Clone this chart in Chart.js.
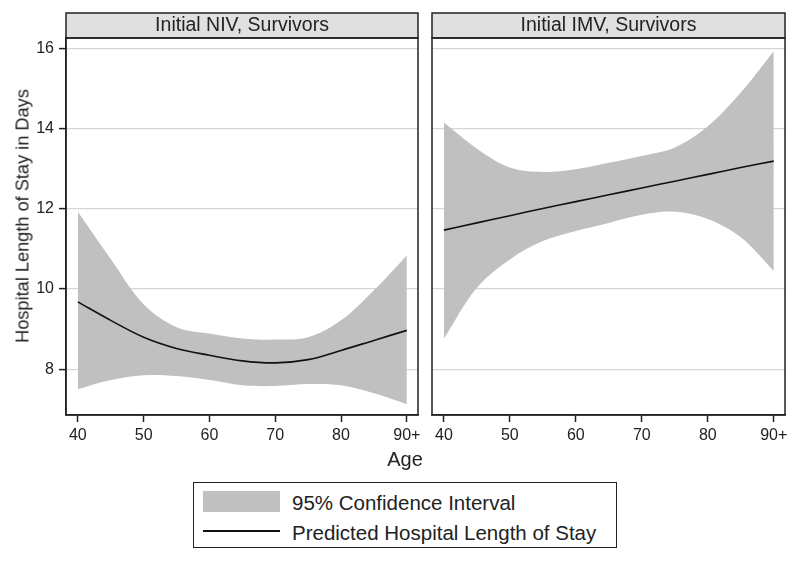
<!DOCTYPE html>
<html>
<head>
<meta charset="utf-8">
<script src="https://cdn.jsdelivr.net/npm/chart.js@4/dist/chart.umd.min.js"></script>
<style>
  body { margin: 0; background: #fff; font-family: "Liberation Sans", Arial, sans-serif; color: #222; }
  #wrap { position: relative; width: 800px; height: 562px; }
  canvas { position: absolute; top: 0; }
  #ylab { position: absolute; left: 23px; top: 216px; transform: translate(-50%, -50%) rotate(-90deg); white-space: nowrap; font-size: 18.2px; }
  #xlab { position: absolute; left: 355px; top: 448px; width: 100px; text-align: center; font-size: 20px; }
  #legend { position: absolute; left: 193px; top: 482px; width: 424px; height: 66px; box-sizing: border-box; border: 1.5px solid #222; }
  .sw { position: absolute; left: 8.5px; top: 7.5px; width: 77px; height: 21px; background: #c0c0c0; }
  .ln { position: absolute; left: 8.5px; top: 47px; width: 77px; height: 1.5px; background: #111; }
  .tx { position: absolute; left: 98px; height: 24px; line-height: 24px; margin-top: -12px; font-size: 20.5px; white-space: nowrap; }
</style>
</head>
<body>
<div id="wrap">
  <canvas id="niv" width="425" height="450" style="left:0"></canvas>
  <canvas id="imv" width="375" height="450" style="left:425px"></canvas>
  <div id="ylab">Hospital Length of Stay in Days</div>
  <div id="xlab">Age</div>
  <div id="legend">
    <div class="sw"></div><div class="tx" style="top:19.5px">95% Confidence Interval</div>
    <div class="ln"></div><div class="tx" style="top:49.5px">Predicted Hospital Length of Stay</div>
  </div>
</div>
<script>
// Age grid shared by both panels
const ages = [40, 45, 50, 55, 60, 65, 70, 75, 80, 85, 90];
const xTicks = [40, 50, 60, 70, 80, 90];
const xTickLabels = ['40', '50', '60', '70', '80', '90+'];
const yTicks = [8, 10, 12, 14, 16];

// Initial NIV, Survivors
const nivPred  = [9.68, 9.22, 8.80, 8.52, 8.35, 8.21, 8.16, 8.24, 8.47, 8.72, 8.97];
const nivUpper = [11.93, 10.75, 9.62, 9.05, 8.89, 8.77, 8.74, 8.80, 9.22, 9.97, 10.84];
const nivLower = [7.50, 7.73, 7.85, 7.83, 7.73, 7.60, 7.58, 7.63, 7.60, 7.40, 7.13];

// Initial IMV, Survivors
const imvPred  = [11.47, 11.65, 11.83, 12.01, 12.18, 12.35, 12.52, 12.69, 12.86, 13.03, 13.19];
const imvUpper = [14.15, 13.50, 13.03, 12.92, 12.99, 13.15, 13.32, 13.53, 14.06, 14.90, 15.93];
const imvLower = [8.76, 10.03, 10.74, 11.20, 11.45, 11.65, 11.85, 11.93, 11.75, 11.29, 10.45];

const FONT = '"Liberation Sans", Arial, sans-serif';

// grey title strip above the plot area and a black box round it
const panelFrame = {
    id: 'panelFrame',
    afterDraw(chart, args, opts) {
        const { ctx, chartArea: a } = chart;
        ctx.save();
        ctx.fillStyle = '#e0e0e0';
        ctx.fillRect(a.left, a.top - 25, a.right - a.left, 25);
        ctx.strokeStyle = '#222';
        ctx.lineWidth = 1.5;
        ctx.strokeRect(a.left, a.top - 25, a.right - a.left, 25);
        ctx.strokeRect(a.left, a.top, a.right - a.left, a.bottom - a.top);
        ctx.fillStyle = '#222';
        ctx.font = '19.5px ' + FONT;
        ctx.textAlign = 'center';
        ctx.textBaseline = 'middle';
        ctx.fillText(opts.text, (a.left + a.right) / 2, a.top - 12);
        ctx.restore();
    }
};

const toXY = vals => vals.map((v, i) => ({ x: ages[i], y: v }));

function makePanel(canvasId, title, upper, lower, pred, showY) {
    const ctx = document.getElementById(canvasId).getContext('2d');
    // dataset 0 is drawn last, so the predicted line sits on top of the band
    return new Chart(ctx, {
        type: 'line',
        data: {
            datasets: [
                { data: toXY(pred), borderColor: '#111', borderWidth: 1.6, fill: false, pointRadius: 0, tension: 0.35 },
                { data: toXY(upper), borderWidth: 0, backgroundColor: '#c0c0c0', fill: 2, pointRadius: 0, tension: 0.35 },
                { data: toXY(lower), borderWidth: 0, backgroundColor: '#c0c0c0', fill: false, pointRadius: 0, tension: 0.35 }
            ]
        },
        options: {
            responsive: false,
            animation: false,
            layout: { padding: showY ? { left: 8, top: 38, right: 7, bottom: 0 } : { left: 7, top: 38, right: 15, bottom: 0 } },
            plugins: {
                legend: { display: false },
                tooltip: { enabled: false },
                panelFrame: { text: title }
            },
            scales: {
                x: {
                    type: 'linear',
                    min: 38.2,
                    max: 91.7,
                    afterBuildTicks: s => { s.ticks = xTicks.map(v => ({ value: v })); },
                    afterFit: s => { s.height = 35; },
                    grid: { drawOnChartArea: false, tickLength: 7, tickColor: '#222', tickWidth: 1.5 },
                    border: { color: '#222', width: 1.5 },
                    ticks: {
                        padding: 4,
                        maxRotation: 0,
                        color: '#222',
                        font: { family: FONT, size: 16 },
                        callback: v => xTickLabels[xTicks.indexOf(v)]
                    }
                },
                y: {
                    min: 6.86,
                    max: 16.26,
                    afterBuildTicks: s => { s.ticks = yTicks.map(v => ({ value: v })); },
                    afterFit: s => { s.width = showY ? 58 : 0; },
                    grid: { color: '#d6d6d6', lineWidth: 1.2, drawTicks: showY, tickLength: 7, tickColor: '#222', tickWidth: 1.5 },
                    border: { display: showY, color: '#222', width: 1.5 },
                    ticks: { display: showY, padding: 5, color: '#222', font: { family: FONT, size: 16 } }
                }
            }
        },
        plugins: [panelFrame]
    });
}

makePanel('niv', 'Initial NIV, Survivors', nivUpper, nivLower, nivPred, true);
makePanel('imv', 'Initial IMV, Survivors', imvUpper, imvLower, imvPred, false);
</script>
</body>
</html>
